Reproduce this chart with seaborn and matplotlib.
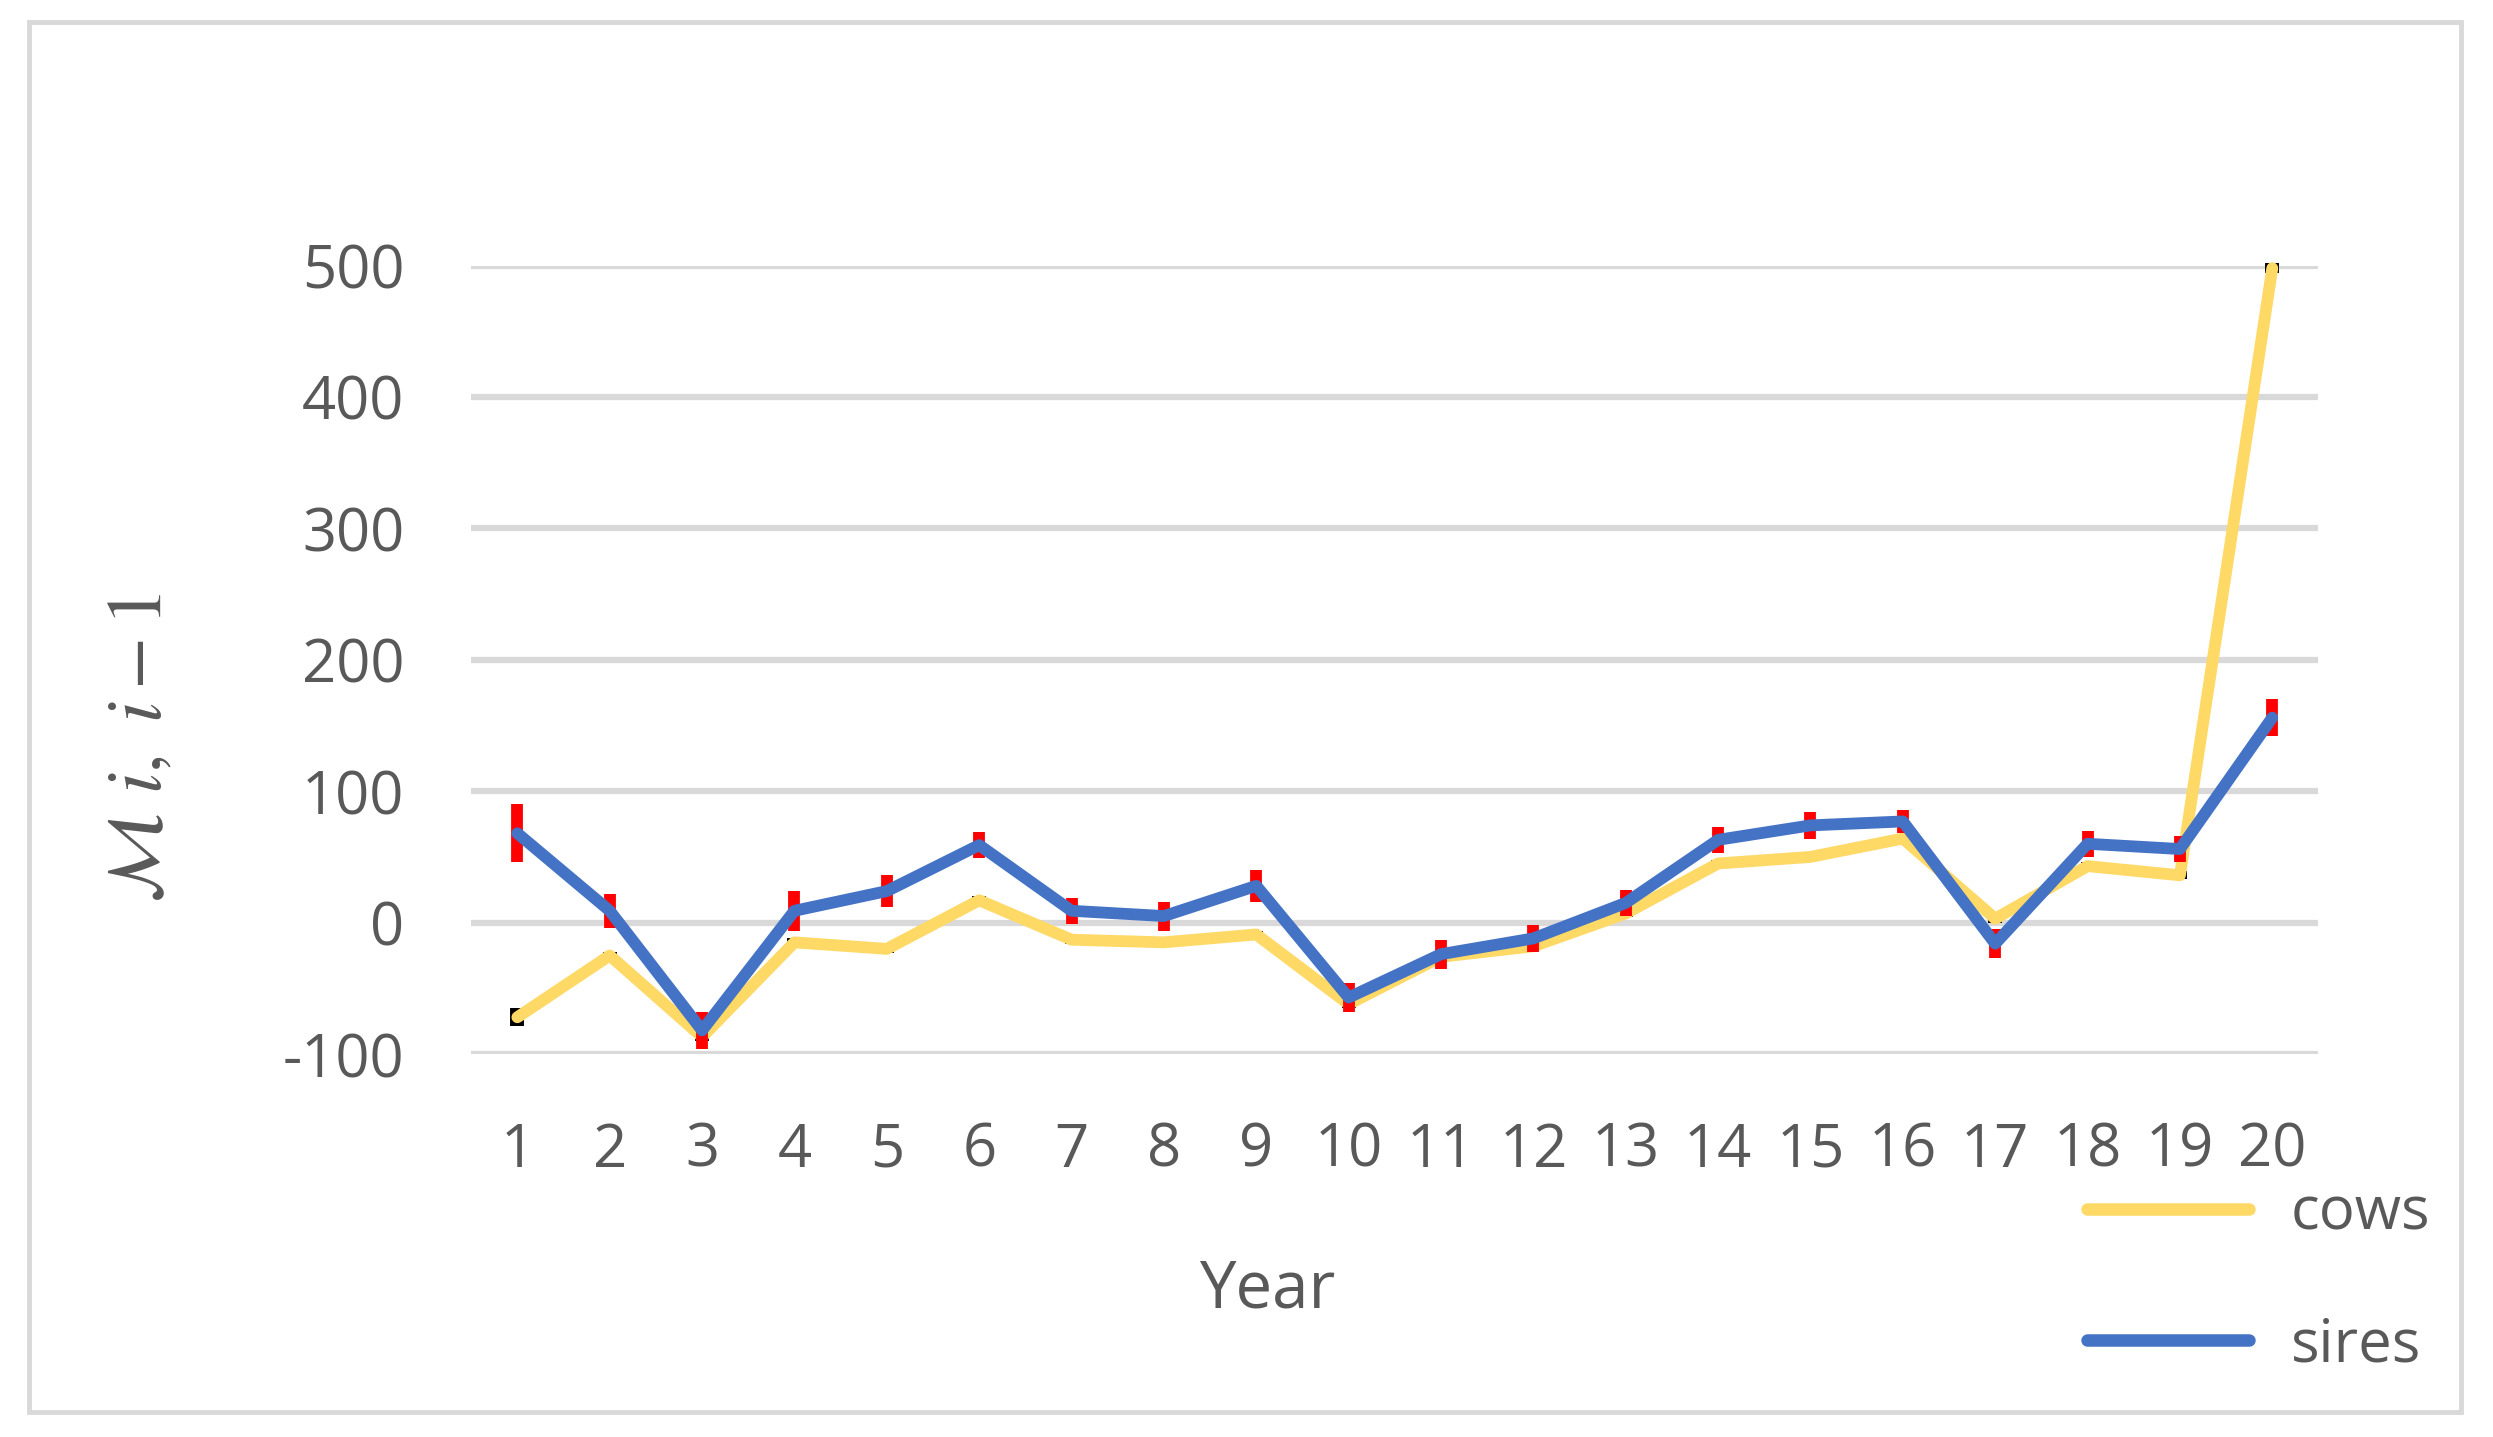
import matplotlib
matplotlib.use("Agg")
import matplotlib.pyplot as plt
import seaborn as sns
import pandas as pd
from matplotlib.patches import Rectangle

# Values
years = list(range(1, 21))
cows = [-72, -25, -87, -15, -20, 17, -13, -15, -9, -62,
        -26, -18, 7, 45, 50, 64, 3, 43, 36, 498]
cows_err = [7, 3, 3, 3, 3, 3, 3, 3, 3, 3,
            3, 3, 3, 3, 3, 3, 3, 3, 3, 4]
sires = [68, 9, -82, 9, 24, 59, 9, 5, 28, -57,
         -24, -12, 15, 63, 74, 77, -16, 60, 56, 156]
sires_err = [22, 13, 14, 15, 12, 10, 10, 11, 12, 11,
             11, 10, 10, 10, 10, 9, 11, 10, 10, 14]

YELLOW = "#FFD966"
BLUE = "#4472C4"
GREY_TXT = "#595959"
GRID = "#D9D9D9"

sns.set_style("white")
plt.rcParams["font.family"] = ["Open Sans", "DejaVu Sans"]
plt.rcParams["mathtext.fontset"] = "stix"
plt.rcParams["axes.unicode_minus"] = False

df = pd.DataFrame({
    "year": years * 2,
    "value": cows + sires,
    "series": ["cows"] * len(years) + ["sires"] * len(years),
})

fig = plt.figure(figsize=(24.93, 14.37), dpi=100)
ax = fig.add_axes([0.189, 0.2665, 0.741, 0.5487])

# error bars first, lines on top
ax.errorbar(years, cows, yerr=cows_err, fmt="none", ecolor="black",
            elinewidth=10, capsize=0, zorder=2, clip_on=False)
sns.lineplot(data=df[df.series == "cows"], x="year", y="value", color=YELLOW,
             linewidth=8.5, ax=ax, label="cows", zorder=3,
             solid_joinstyle="round", solid_capstyle="round")
ax.errorbar(years, sires, yerr=sires_err, fmt="none", ecolor="#FF0000",
            elinewidth=8.5, capsize=0, zorder=4, clip_on=False)
sns.lineplot(data=df[df.series == "sires"], x="year", y="value", color=BLUE,
             linewidth=8.5, ax=ax, label="sires", zorder=5,
             solid_joinstyle="round", solid_capstyle="round")
for ln in ax.lines:
    ln.set_clip_on(False)

ax.set_xlim(0.5, 20.5)
ax.set_ylim(-100, 500)
ax.set_xticks(years)
ax.set_yticks(range(-100, 501, 100))
ax.yaxis.grid(True, color=GRID, linewidth=4.5, zorder=0)
ax.set_axisbelow(True)
for s in ax.spines.values():
    s.set_visible(False)
ax.tick_params(axis="both", length=0, labelsize=43, labelcolor=GREY_TXT)
ax.tick_params(axis="y", pad=48)
ax.tick_params(axis="x", pad=48)

ax.set_xlabel("Year", fontsize=47, color=GREY_TXT, va="center")
ax.xaxis.set_label_coords(0.431, -0.30)
ax.set_ylabel(r"$\mathcal{M}\ i,\ i - 1$", fontsize=56, color=GREY_TXT,
              va="center")
ax.yaxis.set_label_coords(-0.179, 0.389)

leg = ax.legend(loc="upper left", bbox_to_anchor=(0.862, -0.134), frameon=False,
                fontsize=43, handlelength=2.7, handletextpad=0.7,
                labelspacing=1.2, borderaxespad=0)
for t in leg.get_texts():
    t.set_color(GREY_TXT)
for h in leg.get_lines():
    h.set_linewidth(9)
    h.set_solid_capstyle("round")

# grey frame around the whole chart
fig.patches.append(Rectangle((29 / 2493, 1 - 1412 / 1437), (2461 - 29) / 2493,
                             (1412 - 22) / 1437, transform=fig.transFigure,
                             fill=False, edgecolor=GRID, linewidth=3.5))

fig.savefig("out.png", dpi=100, facecolor="white")
